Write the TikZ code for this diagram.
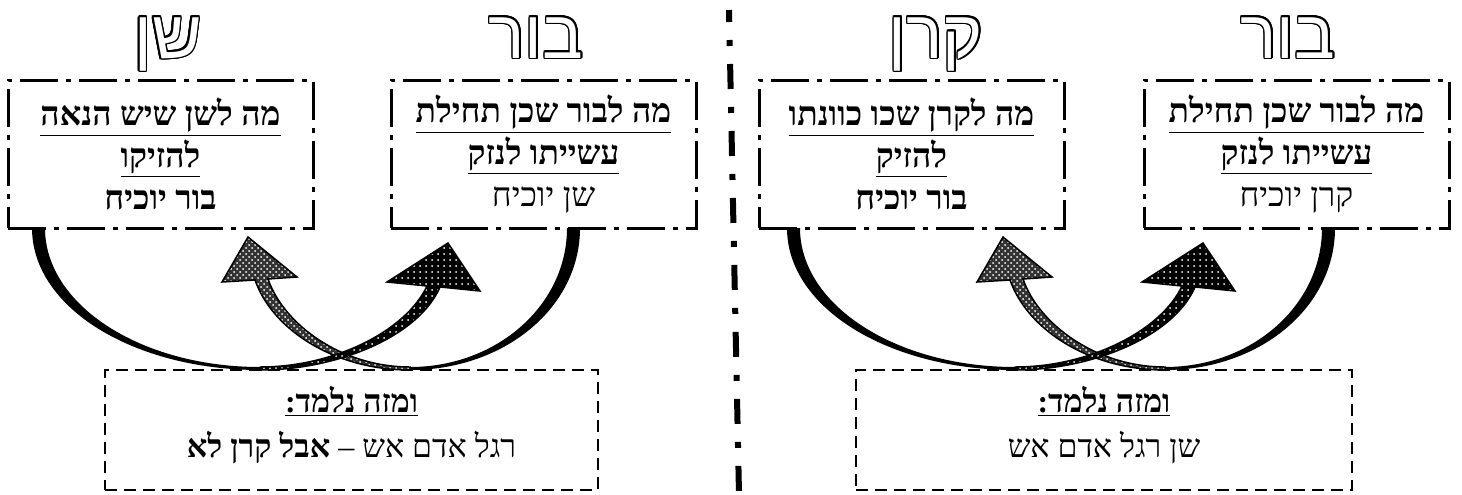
\documentclass[tikz,border=0pt]{standalone}
\usepackage{fontspec}
\setmainfont{Liberation Serif}
\newfontfamily\hebfont[Script=Hebrew]{Liberation Serif}
\newfontfamily\hebtitle[Script=Hebrew]{Liberation Sans}
\TeXXeTstate=1
\usepackage[copies]{contour}
\contourlength{0.8pt}
\usetikzlibrary{patterns,positioning}
\newcommand\heb[1]{\beginR#1\endR}
\newcommand\uheb[1]{\underline{\beginR#1\endR}}
\tikzset{
  topbox/.style={draw, line width=1.5pt, dash pattern=on 19pt off 4pt on 2.5pt off 4pt,
    minimum width=152.5pt, minimum height=74pt, inner sep=0pt, align=center,
    font=\hebfont\fontsize{16.8}{21}\selectfont},
  lowbox/.style={draw, line width=1pt, dash pattern=on 6pt off 3.5pt,
    minimum height=60pt, inner sep=0pt, align=center,
    font=\hebfont\fontsize{16}{22.5}\selectfont},
  bigword/.style={anchor=base, inner sep=0pt, text=white,
    font=\hebtitle\fontsize{34}{34}\selectfont},
  swoop/.style={fill=black},
  lightarrow/.style={preaction={fill=black!80}, preaction={pattern=crosshatch dots, pattern color=white},
    draw=black, line width=0.75pt, line join=miter},
  darkarrow/.style={preaction={fill=black}, preaction={pattern=dots, pattern color=white},
    draw=black, line width=0.75pt, line join=miter},
}
\begin{document}
\begin{tikzpicture}[x=0.5pt, y=-0.5pt]
  \useasboundingbox (0,0) rectangle (1462,494);
  % swoops and crossing arrows, same on both halves
  \foreach \dx in {0,755}{
    \begin{scope}[shift={(\dx,0)}]
      \fill[swoop] (32,228) .. controls (32,308) and (134,370) .. (260,370)
        -- (260,367) .. controls (141,367) and (45,305) .. (45,228) -- cycle;
      \fill[swoop] (580,228) .. controls (580,308) and (504,370) .. (410,370)
        -- (410,367) .. controls (497,367) and (567,305) .. (567,228) -- cycle;
      \path[lightarrow] (410,370) .. controls (336,370) and (273,331) .. (255,280)
        -- (222,282) -- (248,237) -- (297,277) -- (268,279)
        .. controls (284,325) and (342,367) .. (410,367) -- cycle;
      \path[darkarrow] (260,370) .. controls (338,370) and (419,336) .. (440,287)
        -- (480,291) -- (448,243) -- (387,282) -- (427,286)
        .. controls (406,331) and (334,367) .. (260,367) -- cycle;
    \end{scope}
  }
  % separator
  \coordinate (septop) at (729,10);
  \coordinate (sepbot) at (739,494);
  \draw[line width=3pt, dash pattern=on 12.5pt off 9pt on 3pt off 9pt, dash phase=6.5pt] (septop) -- (sepbot);
  % titles
  \node[bigword] (shen) at (168,58) {\contour{black}{\heb{שן}}};
  \node[bigword] (bor) at (536,58) {\contour{black}{\heb{בור}}};
  \node[bigword] (keren) at (936,58) {\contour{black}{\heb{קרן}}};
  \node[bigword] (bortwo) at (1288,58) {\contour{black}{\heb{בור}}};
  % upper boxes
  \node[topbox] (lashen) at (160.5,154)
    {\uheb{\bfseries מה לשן שיש הנאה}\\ \uheb{\bfseries להזיקו}\\ \heb{\bfseries בור יוכיח}};
  \node[topbox] (labor) at (543.5,154)
    {\uheb{\bfseries מה לבור שכן תחילת}\\ \uheb{\bfseries עשייתו לנזק}\\ \heb{שן יוכיח}};
  \node[topbox] (lakeren) at (911.5,154)
    {\uheb{\bfseries מה לקרן שכו כוונתו}\\ \uheb{\bfseries להזיק}\\ \heb{\bfseries בור יוכיח}};
  \node[topbox] (labortwo) at (1296.5,154)
    {\uheb{\bfseries מה לבור שכן תחילת}\\ \uheb{\bfseries עשייתו לנזק}\\ \heb{קרן יוכיח}};
  % lower boxes
  \node[lowbox, minimum width=246.5pt] (lomed) at (351.5,430)
    {\uheb{\bfseries ומזה נלמד:}\\ \heb{רגל אדם אש – \bfseries אבל קרן לא}\rule[-8pt]{0pt}{8pt}};
  \node[lowbox, minimum width=248pt] (lomedtwo) at (1104,430)
    {\uheb{\bfseries ומזה נלמד:}\\ \heb{שן רגל אדם אש}\rule[-8pt]{0pt}{8pt}};
\end{tikzpicture}
\end{document}
